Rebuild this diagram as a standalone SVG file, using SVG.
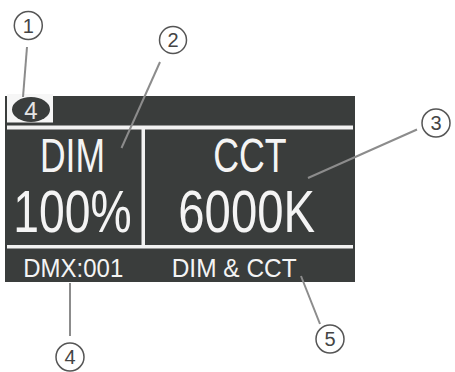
<svg xmlns="http://www.w3.org/2000/svg" width="455" height="372" viewBox="0 0 455 372">
<style>
.lcd{fill:#3a3d3c}
.wl{fill:#f2f2f2}
.big{font-family:"Liberation Sans",Arial,sans-serif;fill:#f4f4f4;text-anchor:start}
.lead{stroke:#8c8c8c;stroke-width:2;fill:none}
.cc{fill:none;stroke:#555;stroke-width:1.5}
.cn{font-family:"Liberation Sans",Arial,sans-serif;font-size:20px;fill:#444;text-anchor:middle}
</style>
<rect width="455" height="372" fill="#ffffff"/>
<g id="lcd">
<rect class="lcd" x="5" y="96" width="350" height="186"/>
<rect x="7" y="94" width="46" height="28.5" fill="#f6f6f6"/>
<rect class="wl" x="7" y="125.5" width="346" height="4"/>
<rect class="wl" x="141.5" y="128" width="3.5" height="119"/>
<rect class="wl" x="7" y="245" width="346" height="3.5"/>
</g>
<g id="page-badge">
<ellipse cx="31" cy="109.5" rx="19" ry="12.5" fill="#3a3d3c"/>
<text x="31" y="119" font-family="Liberation Sans, Arial, sans-serif" font-size="24" fill="#e4e4e4" text-anchor="middle">4</text>
</g>
<g id="dim-panel">
<text class="big" x="40" y="171.7" font-size="49" textLength="65" lengthAdjust="spacingAndGlyphs">DIM</text>
<text class="big" x="13.3" y="231.7" font-size="59" textLength="118.4" lengthAdjust="spacingAndGlyphs">100%</text>
</g>
<g id="cct-panel">
<text class="big" x="213.3" y="171.7" font-size="49" textLength="73.4" lengthAdjust="spacingAndGlyphs">CCT</text>
<text class="big" x="178.3" y="231.7" font-size="59" textLength="136.7" lengthAdjust="spacingAndGlyphs">6000K</text>
</g>
<g id="status-bar">
<text class="big" x="23.3" y="276.7" font-size="25.5" textLength="100" lengthAdjust="spacingAndGlyphs">DMX:001</text>
<text class="big" x="171.7" y="276.7" font-size="25.5" textLength="125" lengthAdjust="spacingAndGlyphs">DIM &amp; CCT</text>
</g>
<g id="connectors">
<line class="lead" x1="27" y1="47" x2="23" y2="97"/>
<line class="lead" x1="160" y1="62" x2="121.5" y2="148"/>
<line class="lead" x1="417" y1="129.5" x2="308" y2="178"/>
<line class="lead" x1="70" y1="283" x2="70" y2="336"/>
<line class="lead" x1="301" y1="276" x2="320" y2="324"/>
</g>
<g id="callout-1">
<circle class="cc" cx="28.3" cy="25.5" r="14"/>
<text class="cn" x="28.3" y="32.5">1</text>
</g>
<g id="callout-2">
<circle class="cc" cx="173" cy="40" r="13.5"/>
<text class="cn" x="173" y="47">2</text>
</g>
<g id="callout-3">
<circle class="cc" cx="436" cy="123" r="14"/>
<text class="cn" x="436" y="130">3</text>
</g>
<g id="callout-4">
<circle class="cc" cx="70" cy="357" r="14"/>
<text class="cn" x="70" y="364">4</text>
</g>
<g id="callout-5">
<circle class="cc" cx="330" cy="339" r="14"/>
<text class="cn" x="330" y="346">5</text>
</g>
</svg>
